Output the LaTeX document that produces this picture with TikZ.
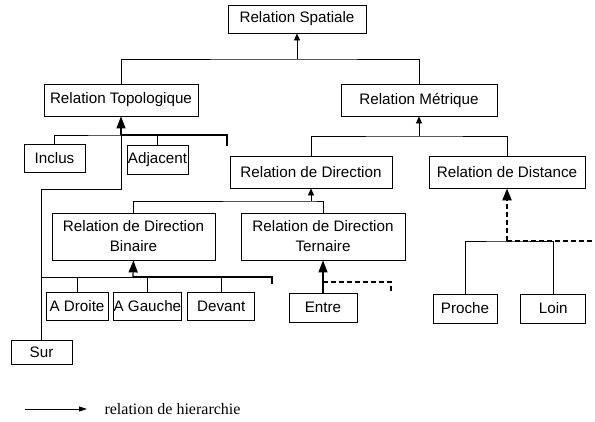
\documentclass[tikz,border=0pt]{standalone}
\usepackage{fontspec}
\setmainfont{Liberation Sans}
\newfontfamily\legendfont{Liberation Serif}
\usepackage{tikz}
\usetikzlibrary{shapes,arrows.meta,positioning}
\tikzstyle{rel} = [draw, rectangle, inner sep=0.3pt, line width=0.8pt,
    minimum height=28pt, font=\fontsize{15.2}{20}\selectfont, align=center]
\tikzstyle{link} = [line width=0.8pt]
\tikzstyle{isa} = [line width=0.8pt, -{Triangle[length=7pt,width=6pt]}]
\tikzstyle{bigisa} = [line width=1.2pt, -{Triangle[length=12pt,width=9pt]}]
\tikzstyle{bold} = [line width=2.4pt]
\tikzstyle{bolddash} = [line width=2.4pt, dash pattern=on 5pt off 3pt]

\begin{document}
\begin{tikzpicture}[x=1pt, y=-1pt, node distance = 5pt]
  \useasboundingbox (0,0) rectangle (595,421);
  % level 1 and 2
  \node [rel, minimum width=138pt] (r1) at (297,19) {Relation Spatiale};
  \node [rel, minimum width=154pt, minimum height=32pt] (c21) at (121,100) {Relation Topologique};
  \node [rel, minimum width=156pt, minimum height=32pt] (c22) at (419,100) {Relation M\'etrique};
  % level 3
  \node [rel, minimum width=61pt] (c31) at (54.5,158) {Inclus};
  \node [rel, minimum width=61pt, minimum height=29pt] (c32) at (157.5,159.5) {Adjacent};
  \node [rel, minimum width=162pt, minimum height=32pt] (c33) at (311,172) {Relation de Direction};
  \node [rel, minimum width=156pt, minimum height=32pt] (c34) at (507,172) {Relation de Distance};
  % level 4
  \node [rel, minimum width=163pt, minimum height=47pt] (c41) at (133.5,236.5) {Relation de Direction\\Binaire};
  \node [rel, minimum width=164pt, minimum height=47pt] (c42) at (323,236.5) {Relation de Direction\\Ternaire};
  % leaves
  \node [rel, minimum width=62pt] (c51) at (77,306) {A Droite};
  \node [rel, minimum width=67pt, right=4.5pt of c51] (c52) {A Gauche};
  \node [rel, minimum width=67pt, right=5.5pt of c52] (c53) {Devant};
  \node [rel, minimum width=68pt, minimum height=29pt] (c54) at (323,307.5) {Entre};
  \node [rel, minimum width=64pt, minimum height=29pt] (c55) at (465,308.5) {Proche};
  \node [rel, minimum width=65pt, minimum height=29pt, right=23pt of c55] (c56) {Loin};
  \node [rel, minimum width=61pt, minimum height=24pt] (c61) at (41.5,352) {Sur};

  % junctions
  \coordinate (j1) at (297,59);
  \coordinate (j2) at (121,135);
  \coordinate (j4) at (419,136);
  \coordinate (j5) at (311,201);
  \coordinate (j6) at (133,277);
  \coordinate (j7) at (323,282);
  \coordinate (j8) at (507,241);
  \coordinate (e1) at (227,146);
  \coordinate (e2) at (272,284);
  \coordinate (e3) at (391,293);
  \coordinate (e4) at (595,241);

  \draw [link] (c21.north) |- (j1) -| (c22.north);
  \draw [isa] (j1) -- (r1.south);

  \draw [link] (c31.north) |- (j2) -| (c32.north);
  \draw [link] (j2) -- ++(0,54) -| (c61.north);
  \draw [bold] (j2) -| (e1);
  \draw [bigisa] (j2) -- (c21.south);

  \draw [link] (c33.north) |- (j4) -| (c34.north);
  \draw [isa] (j4) -- (c22.south);

  \draw [link] (c41.north) |- (j5) -| (c42.north);
  \draw [isa] (j5) -- (c33.south);

  \draw [link] (c61.north |- j6) -- (c53.north |- j6);
  \foreach \n in {c51,c52,c53}
    \draw [link] (\n.north) -- (\n.north |- j6);
  \draw [bold] (j6) -| (e2);
  \draw [bigisa] (j6) -- (c41.south);

  \draw [bigisa] (c54.north) -- (c42.south);
  \draw [bolddash] (j7) -| (e3);

  \draw [link] (c55.north) |- (j8) -| (c56.north);
  \draw [bolddash] (j8) -- (e4);
  \draw [bolddash, -{Triangle[length=12pt,width=9pt]}] (j8) -- (c34.south);

  % legend
  \node [anchor=west, font=\legendfont\fontsize{16}{18}\selectfont] (leg) at (101,409) {relation de hierarchie};
  \coordinate (l1) at (25,409);
  \draw [link, -{Triangle[length=8pt,width=5pt]}] (l1) -- ([xshift=-14pt]leg.west);
\end{tikzpicture}
\end{document}
